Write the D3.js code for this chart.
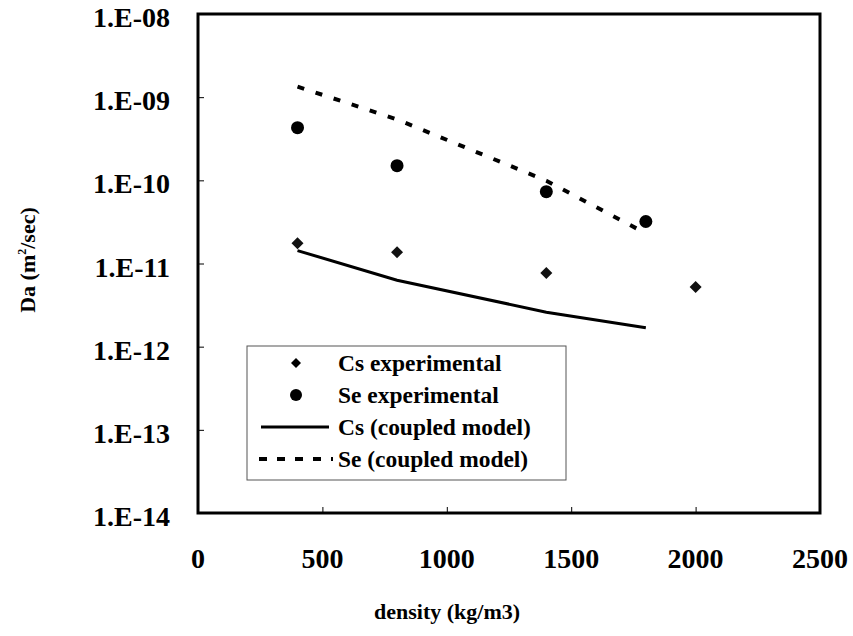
<!DOCTYPE html>
<html><head><meta charset="utf-8">
<script src="https://cdn.jsdelivr.net/npm/d3@7"></script>
<style>body{margin:0;background:#fff}</style>
</head><body>
<svg id="c" width="853" height="636"></svg>
<script>
const densityExp = [400, 800, 1400, 2000];
const csExp = [1.75e-11, 1.37e-11, 7.7e-12, 5.2e-12];
const seDensityExp = [400, 800, 1400, 1800];
const seExp = [4.3e-10, 1.5e-10, 7.3e-11, 3.2e-11];
const densityModel = [400, 800, 1400, 1800];
const csModel = [1.43e-11, 6.3e-12, 2.6e-12, 1.69e-12];
const seModel = [1.34e-9, 5.4e-10, 9.9e-11, 2.3e-11];
const xTicks = [0, 500, 1000, 1500, 2000, 2500];
const yTicks = [1e-8, 1e-9, 1e-10, 1e-11, 1e-12, 1e-13, 1e-14];
const yTickLabels = ["1.E-08","1.E-09","1.E-10","1.E-11","1.E-12","1.E-13","1.E-14"];
const legendLabels = ["Cs experimental","Se experimental","Cs (coupled model)","Se (coupled model)"];

const L = 198, R = 820, T = 14, B = 513;
const font = "'Liberation Serif','Times New Roman',serif";
const svg = d3.select("#c");
const x = d3.scaleLinear().domain([0, 2500]).range([L, R]);
const y = d3.scaleLog().domain([1e-14, 1e-8]).range([B, T]);

function txt(g, tx, ty, s, size, anchor, sx) {
  return g.append("text")
    .attr("transform", `translate(${tx},${ty}) scale(${sx||1},1)`)
    .attr("text-anchor", anchor)
    .attr("font-family", font).attr("font-weight", "bold")
    .attr("font-size", size).attr("fill", "#000").text(s);
}

// axes ticks via d3 axes
const yAxis = d3.axisLeft(y).tickValues(yTicks).tickSize(-6).tickFormat("");
svg.append("g").attr("transform", `translate(${L},0)`).call(yAxis)
  .call(g => { g.select(".domain").remove(); g.selectAll("line").attr("stroke","#000").attr("stroke-width",1); });
const xAxis = d3.axisBottom(x).tickValues(xTicks).tickSize(-6).tickFormat("");
svg.append("g").attr("transform", `translate(0,${B})`).call(xAxis)
  .call(g => { g.select(".domain").remove(); g.selectAll("line").attr("stroke","#000").attr("stroke-width",1); });

// tick labels
yTicks.forEach((v, i) => txt(svg, L - 28, y(v) + 13, yTickLabels[i], 28, "end"));
xTicks.forEach(v => txt(svg, x(v), 568, String(v), 28, "middle"));

// frame
svg.append("rect").attr("x", L).attr("y", T).attr("width", R - L).attr("height", B - T)
  .attr("fill", "none").attr("stroke", "#000").attr("stroke-width", 3);

// model lines
const line = d3.line().x(d => x(d[0])).y(d => y(d[1]));
svg.append("path").datum(densityModel.map((d, i) => [d, csModel[i]]))
  .attr("d", line).attr("fill", "none").attr("stroke", "#000").attr("stroke-width", 3);
svg.append("path").datum(densityModel.map((d, i) => [d, seModel[i]]))
  .attr("d", line).attr("fill", "none").attr("stroke", "#000").attr("stroke-width", 4)
  .attr("stroke-dasharray", "7,12");

// markers
svg.selectAll(".cs").data(densityExp.map((d, i) => [d, csExp[i]])).enter()
  .append("path").attr("d", d3.symbol().type(d3.symbolSquare).size(72))
  .attr("transform", d => `translate(${x(d[0])},${y(d[1])}) rotate(45)`).attr("fill", "#111");
svg.selectAll(".se").data(seDensityExp.map((d, i) => [d, seExp[i]])).enter()
  .append("circle").attr("cx", d => x(d[0])).attr("cy", d => y(d[1])).attr("r", 6.5).attr("fill", "#000");

// legend
const lg = svg.append("g");
lg.append("rect").attr("x", 247).attr("y", 346).attr("width", 319).attr("height", 134)
  .attr("fill", "#fff").attr("stroke", "#555").attr("stroke-width", 1);
const rows = [363, 395, 427, 459];
lg.append("path").attr("d", d3.symbol().type(d3.symbolSquare).size(50))
  .attr("transform", `translate(296,${rows[0]}) rotate(45)`).attr("fill", "#000");
lg.append("circle").attr("cx", 296).attr("cy", rows[1]).attr("r", 6).attr("fill", "#000");
lg.append("line").attr("x1", 261).attr("x2", 329).attr("y1", rows[2]).attr("y2", rows[2])
  .attr("stroke", "#000").attr("stroke-width", 3);
lg.append("line").attr("x1", 259).attr("x2", 333).attr("y1", rows[3]).attr("y2", rows[3])
  .attr("stroke", "#000").attr("stroke-width", 4).attr("stroke-dasharray", "8,10");
legendLabels.forEach((s, i) => txt(lg, 338, rows[i] + 8, s, 23, "start", 1.02));

// axis titles
txt(svg, 447, 619, "density (kg/m3)", 22, "middle");
const yt = svg.append("text")
  .attr("transform", `translate(35,260) rotate(-90)`)
  .attr("text-anchor", "middle").attr("font-family", font).attr("font-weight", "bold")
  .attr("font-size", 22).attr("fill", "#000");
yt.append("tspan").text("Da (m");
yt.append("tspan").attr("font-size", 12).attr("dy", -9).text("2");
yt.append("tspan").attr("dy", 9).text("/sec)");
</script>
</body></html>
